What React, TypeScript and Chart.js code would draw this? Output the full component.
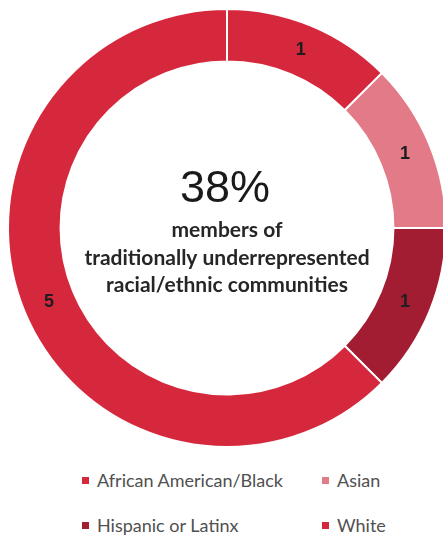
import React, { useEffect, useRef } from "react";
import { Chart, registerables } from "chart.js";

Chart.register(...registerables);

const categories = ["African American/Black", "Asian", "Hispanic or Latinx", "White"];
const counts = [1, 1, 1, 5];
const colors = ["#d5283d", "#e37a87", "#a21d32", "#d5283d"];
const centerValue = "38%";
const centerLines = ["members of", "traditionally underrepresented", "racial/ethnic communities"];

const labelPlugin = {
  id: "sliceLabels",
  afterDatasetsDraw(chart: any) {
    const ctx = chart.ctx;
    const meta = chart.getDatasetMeta(0);
    ctx.save();
    ctx.font = "bold 18px 'Liberation Sans', Arial, sans-serif";
    ctx.fillStyle = "#1e1e1e";
    ctx.textAlign = "center";
    ctx.textBaseline = "middle";
    meta.data.forEach((arc: any, i: number) => {
      const p = arc.tooltipPosition();
      ctx.fillText(String(counts[i]), p.x, p.y);
    });
    const c = meta.data[0];
    const cx = c.x;
    const cy = c.y;
    ctx.textBaseline = "alphabetic";
    ctx.fillStyle = "#1a1a1a";
    ctx.font = "45px 'Liberation Sans', Arial, sans-serif";
    ctx.fillText(centerValue, cx - 2, cy - 26);
    ctx.fillStyle = "#262626";
    ctx.font = "bold 21px Lato, 'Open Sans', sans-serif";
    centerLines.forEach((t, i) => {
      ctx.fillText(t, cx, cy + 9 + i * 27.5);
    });
    ctx.restore();
  },
};

export default function App() {
  const ref = useRef<HTMLCanvasElement | null>(null);
  useEffect(() => {
    const prevMargin = document.body.style.margin;
    document.body.style.margin = "0";
    if (!ref.current) return;
    const chart = new Chart(ref.current, {
      type: "doughnut",
      data: {
        labels: categories,
        datasets: [
          {
            data: counts,
            backgroundColor: colors,
            borderColor: "#ffffff",
            borderWidth: 2,
            hoverOffset: 0,
          },
        ],
      },
      options: {
        responsive: false,
        animation: false,
        cutout: "76%",
        layout: { padding: 0 },
        plugins: {
          legend: { display: false },
          tooltip: { enabled: false },
        },
      },
      plugins: [labelPlugin],
    });
    return () => {
      chart.destroy();
      document.body.style.margin = prevMargin;
    };
  }, []);

  const legendPos = [
    { left: 82, top: 480 },
    { left: 322, top: 480 },
    { left: 82, top: 525 },
    { left: 322, top: 525 },
  ];

  return (
    <div
      style={{
        position: "relative",
        width: 443,
        height: 537,
        overflow: "hidden",
        background: "#ffffff",
      }}
    >
      <canvas
        ref={ref}
        width={440}
        height={442}
        style={{ position: "absolute", left: 7, top: 7, width: 440, height: 442 }}
      />
      {categories.map((c, i) => (
        <div
          key={c}
          style={{
            position: "absolute",
            left: legendPos[i].left,
            top: legendPos[i].top - 11,
            height: 22,
            display: "flex",
            alignItems: "center",
            fontFamily: "Lato, 'Open Sans', sans-serif",
            fontSize: 18,
            color: "#505050",
            whiteSpace: "nowrap",
          }}
        >
          <span style={{ display: "inline-block", width: 7, height: 7, background: colors[i], marginRight: 8 }} />
          {c}
        </div>
      ))}
    </div>
  );
}
